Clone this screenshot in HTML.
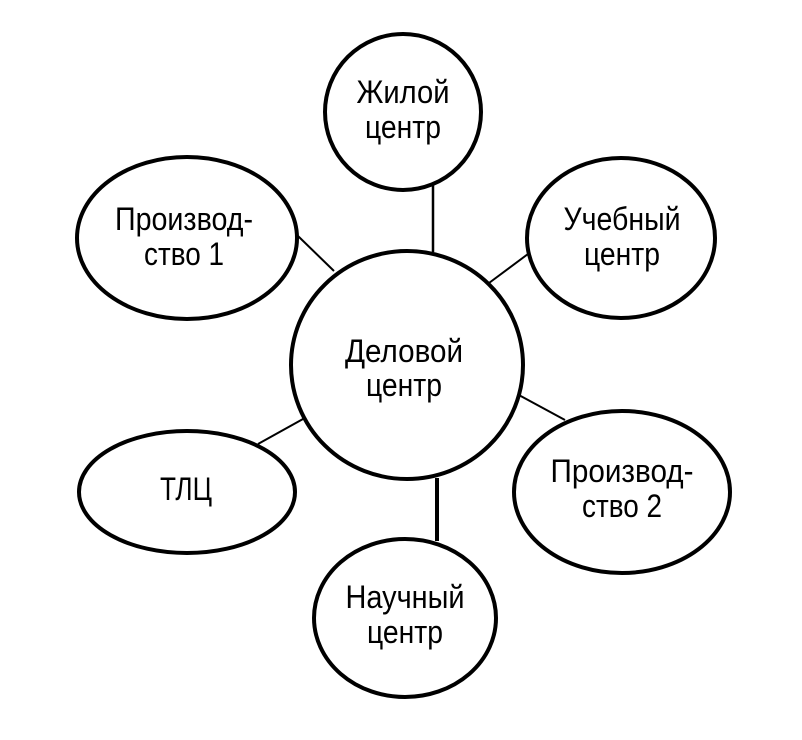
<!DOCTYPE html>
<html><head><meta charset="utf-8"><style>html,body{margin:0;padding:0;background:#fff}svg{display:block}</style></head>
<body>
<svg width="802" height="740" viewBox="0 0 802 740" xmlns="http://www.w3.org/2000/svg">
<g stroke="#000" fill="none">
<line x1="433" y1="183" x2="433" y2="252" stroke-width="2.5"/>
<line x1="298" y1="236" x2="334" y2="271" stroke-width="2"/>
<line x1="489" y1="283" x2="528" y2="254" stroke-width="2"/>
<line x1="258" y1="444" x2="303" y2="419" stroke-width="2"/>
<line x1="517" y1="394" x2="565" y2="420" stroke-width="2"/>
<line x1="437" y1="478" x2="437" y2="541" stroke-width="4"/>
<g stroke-width="4" fill="#fff">
<ellipse cx="407" cy="365" rx="116" ry="114"/>
<ellipse cx="403" cy="112" rx="78" ry="78"/>
<ellipse cx="187" cy="238" rx="110" ry="81"/>
<ellipse cx="621" cy="238" rx="94" ry="80"/>
<ellipse cx="187" cy="492" rx="108" ry="61"/>
<ellipse cx="622" cy="492" rx="108" ry="81"/>
<ellipse cx="405" cy="618" rx="91" ry="79"/>
</g>
</g>
<g font-family="Liberation Sans, DejaVu Sans, sans-serif" font-size="32" text-anchor="middle" fill="#000">
<text x="404" y="362" textLength="118" lengthAdjust="spacingAndGlyphs">Деловой</text>
<text x="404" y="396" textLength="76" lengthAdjust="spacingAndGlyphs">центр</text>
<text x="403" y="103" textLength="93" lengthAdjust="spacingAndGlyphs">Жилой</text>
<text x="403" y="138" textLength="76" lengthAdjust="spacingAndGlyphs">центр</text>
<text x="184" y="230" textLength="138" lengthAdjust="spacingAndGlyphs">Производ-</text>
<text x="184" y="265" textLength="80" lengthAdjust="spacingAndGlyphs">ство 1</text>
<text x="622" y="230" textLength="117" lengthAdjust="spacingAndGlyphs">Учебный</text>
<text x="622" y="265" textLength="76" lengthAdjust="spacingAndGlyphs">центр</text>
<text x="186" y="500" textLength="52" lengthAdjust="spacingAndGlyphs">ТЛЦ</text>
<text x="622" y="482" textLength="143" lengthAdjust="spacingAndGlyphs">Производ-</text>
<text x="622" y="517" textLength="80" lengthAdjust="spacingAndGlyphs">ство 2</text>
<text x="405" y="608" textLength="119" lengthAdjust="spacingAndGlyphs">Научный</text>
<text x="405" y="643" textLength="76" lengthAdjust="spacingAndGlyphs">центр</text>
</g>
</svg>
</body></html>
